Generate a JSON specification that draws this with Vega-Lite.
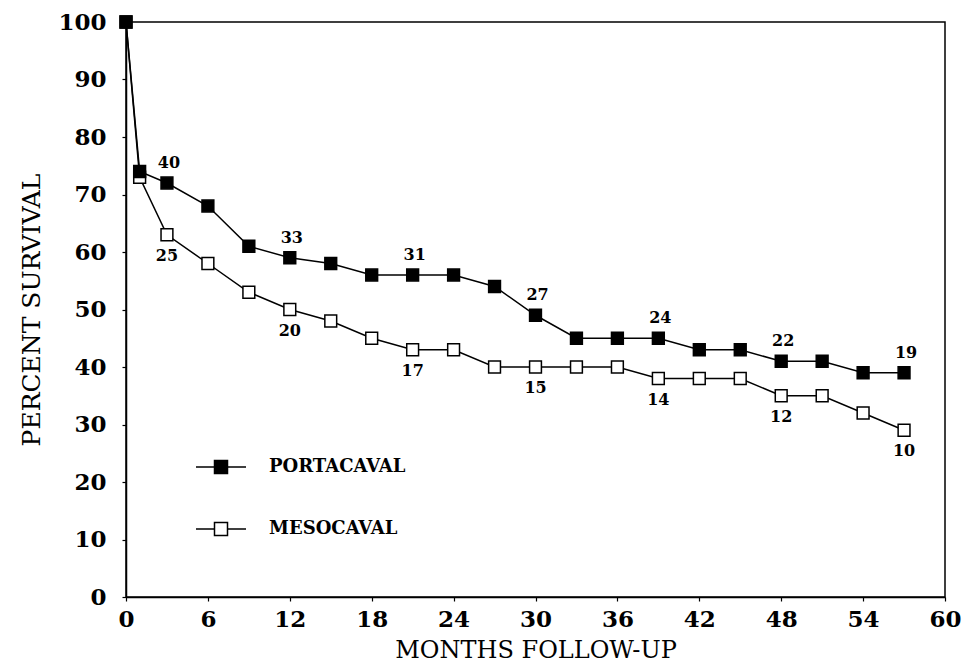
{
  "$schema": "https://vega.github.io/schema/vega-lite/v6.json",
  "width": 819,
  "height": 575,
  "autosize": {"type": "none"},
  "padding": {"left": 126, "top": 22, "right": 25, "bottom": 71},
  "background": "white",
  "config": {
    "view": {"stroke": "black", "strokeWidth": 1.5},
    "axis": {
      "grid": false,
      "domainColor": "black",
      "domainWidth": 1.5,
      "tickColor": "black",
      "tickWidth": 1.2,
      "tickSize": 4,
      "labelFlush": false,
      "labelFont": "DejaVu Serif",
      "labelFontWeight": "bold",
      "labelFontSize": 23,
      "labelColor": "black",
      "titleFont": "DejaVu Serif",
      "titleFontWeight": "normal",
      "titleFontSize": 25,
      "titleColor": "black"
    }
  },
  "data": {
    "values": [
      {"month": 0, "series": "MESOCAVAL", "pct": 100, "n": null},
      {"month": 1, "series": "MESOCAVAL", "pct": 73, "n": null},
      {"month": 3, "series": "MESOCAVAL", "pct": 63, "n": 25},
      {"month": 6, "series": "MESOCAVAL", "pct": 58, "n": null},
      {"month": 9, "series": "MESOCAVAL", "pct": 53, "n": null},
      {"month": 12, "series": "MESOCAVAL", "pct": 50, "n": 20},
      {"month": 15, "series": "MESOCAVAL", "pct": 48, "n": null},
      {"month": 18, "series": "MESOCAVAL", "pct": 45, "n": null},
      {"month": 21, "series": "MESOCAVAL", "pct": 43, "n": 17},
      {"month": 24, "series": "MESOCAVAL", "pct": 43, "n": null},
      {"month": 27, "series": "MESOCAVAL", "pct": 40, "n": null},
      {"month": 30, "series": "MESOCAVAL", "pct": 40, "n": 15},
      {"month": 33, "series": "MESOCAVAL", "pct": 40, "n": null},
      {"month": 36, "series": "MESOCAVAL", "pct": 40, "n": null},
      {"month": 39, "series": "MESOCAVAL", "pct": 38, "n": 14},
      {"month": 42, "series": "MESOCAVAL", "pct": 38, "n": null},
      {"month": 45, "series": "MESOCAVAL", "pct": 38, "n": null},
      {"month": 48, "series": "MESOCAVAL", "pct": 35, "n": 12},
      {"month": 51, "series": "MESOCAVAL", "pct": 35, "n": null},
      {"month": 54, "series": "MESOCAVAL", "pct": 32, "n": null},
      {"month": 57, "series": "MESOCAVAL", "pct": 29, "n": 10},
      {"month": 0, "series": "PORTACAVAL", "pct": 100, "n": null},
      {"month": 1, "series": "PORTACAVAL", "pct": 74, "n": null},
      {"month": 3, "series": "PORTACAVAL", "pct": 72, "n": 40},
      {"month": 6, "series": "PORTACAVAL", "pct": 68, "n": null},
      {"month": 9, "series": "PORTACAVAL", "pct": 61, "n": null},
      {"month": 12, "series": "PORTACAVAL", "pct": 59, "n": 33},
      {"month": 15, "series": "PORTACAVAL", "pct": 58, "n": null},
      {"month": 18, "series": "PORTACAVAL", "pct": 56, "n": null},
      {"month": 21, "series": "PORTACAVAL", "pct": 56, "n": 31},
      {"month": 24, "series": "PORTACAVAL", "pct": 56, "n": null},
      {"month": 27, "series": "PORTACAVAL", "pct": 54, "n": null},
      {"month": 30, "series": "PORTACAVAL", "pct": 49, "n": 27},
      {"month": 33, "series": "PORTACAVAL", "pct": 45, "n": null},
      {"month": 36, "series": "PORTACAVAL", "pct": 45, "n": null},
      {"month": 39, "series": "PORTACAVAL", "pct": 45, "n": 24},
      {"month": 42, "series": "PORTACAVAL", "pct": 43, "n": null},
      {"month": 45, "series": "PORTACAVAL", "pct": 43, "n": null},
      {"month": 48, "series": "PORTACAVAL", "pct": 41, "n": 22},
      {"month": 51, "series": "PORTACAVAL", "pct": 41, "n": null},
      {"month": 54, "series": "PORTACAVAL", "pct": 39, "n": null},
      {"month": 57, "series": "PORTACAVAL", "pct": 39, "n": 19}
    ]
  },
  "encoding": {
    "x": {
      "field": "month",
      "type": "quantitative",
      "scale": {"domain": [0, 60], "nice": false, "zero": false},
      "axis": {
        "values": [0, 6, 12, 18, 24, 30, 36, 42, 48, 54, 60],
        "title": "MONTHS FOLLOW-UP",
        "titleFontSize": 24,
        "labelPadding": 7,
        "titlePadding": 7
      }
    },
    "y": {
      "field": "pct",
      "type": "quantitative",
      "scale": {"domain": [0, 100], "nice": false},
      "axis": {
        "values": [0, 10, 20, 30, 40, 50, 60, 70, 80, 90, 100],
        "title": "PERCENT SURVIVAL",
        "labelPadding": 16,
        "titlePadding": 13
      }
    }
  },
  "layer": [
    {
      "mark": {"type": "line", "color": "black", "strokeWidth": 1.5},
      "encoding": {"detail": {"field": "series"}, "order": {"field": "month"}}
    },
    {
      "mark": {"type": "point", "shape": "square", "filled": true, "size": 140, "stroke": "black", "strokeWidth": 1.5, "opacity": 1},
      "encoding": {
        "fill": {
          "field": "series",
          "type": "nominal",
          "scale": {"domain": ["PORTACAVAL", "MESOCAVAL"], "range": ["black", "white"]},
          "legend": {
            "title": null,
            "orient": "none",
            "legendX": 69,
            "legendY": 419,
            "padding": 0,
            "symbolType": "M-1,0H-0.26M0.26,0H1M-0.26,-0.26H0.26V0.26H-0.26Z",
            "symbolSize": 2500,
            "symbolStrokeColor": "black",
            "symbolStrokeWidth": 1.5,
            "symbolOpacity": 1,
            "labelFont": "DejaVu Serif",
            "labelFontWeight": "bold",
            "labelFontSize": 18,
            "labelColor": "black",
            "labelOffset": 22,
            "rowPadding": 26
          }
        }
      }
    },
    {
      "transform": [{"filter": "datum.n != null && datum.series == 'PORTACAVAL'"}],
      "mark": {"type": "text", "dy": -20, "dx": 2, "font": "DejaVu Serif", "fontWeight": "bold", "fontSize": 16, "color": "black"},
      "encoding": {"text": {"field": "n", "type": "quantitative"}}
    },
    {
      "transform": [{"filter": "datum.n != null && datum.series == 'MESOCAVAL'"}],
      "mark": {"type": "text", "dy": 21, "font": "DejaVu Serif", "fontWeight": "bold", "fontSize": 16, "color": "black"},
      "encoding": {"text": {"field": "n", "type": "quantitative"}}
    }
  ]
}
